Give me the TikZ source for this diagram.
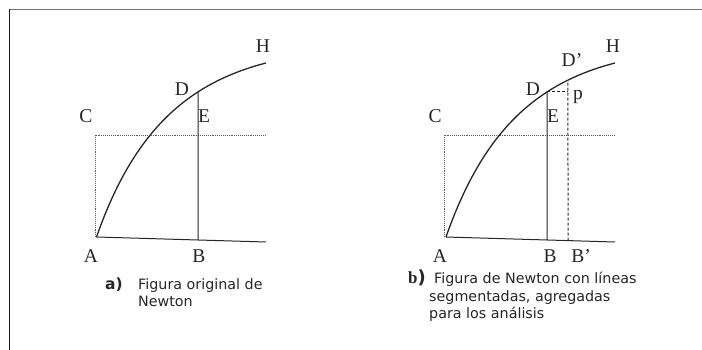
\documentclass[tikz,border=0pt]{standalone}
\usepackage{fontspec}
\setmainfont{Liberation Serif}
\newfontfamily\capfont{DejaVu Sans}
\usetikzlibrary{intersections}
\tikzset{
  lbl/.style={anchor=base, inner sep=0pt, font=\fontsize{19.5}{20}\selectfont, text=black!85},
  captext/.style={anchor=base west, inner sep=0pt, font=\capfont\fontsize{14.3}{17}\selectfont, text=black!85},
  curveline/.style={line width=1.3pt, black!85},
  solidline/.style={line width=1pt, black!85},
  dotline/.style={line width=0.8pt, black!65, dash pattern=on 0.9pt off 1pt},
  dashline/.style={line width=1pt, black!85, dash pattern=on 3pt off 2pt},
}
\begin{document}
\begin{tikzpicture}[x=1pt,y=-1pt]
\useasboundingbox (0,0) rectangle (702,350);
% frame
\draw[black!55, line width=1.3pt] (9,9.5) -- (702,9.5);
\draw[black!90, line width=1pt] (9.5,9) -- (9.5,350);

% ---------- left figure ----------
\begin{scope}[name prefix=l-]
  \coordinate (A) at (96.5,237);
  \coordinate (Hend) at (266,63);
  \coordinate (R) at (266,242);
  \coordinate (C0) at (95,135);
  \coordinate (C1) at (265,135);
  \coordinate (C2) at (95,237);
  \draw[dotline] (C2) -- (C0) -- (C1);
  \draw[curveline, name path=l-curve] (A) .. controls (131.7,136.7) and (182.6,84.5) .. (Hend);
  \draw[solidline, name path=l-base] (A) -- (R);
  \path[name path=l-vB] (198,20) -- (198,260);
  \path[name intersections={of=l-curve and l-vB, by=D}];
  \path[name intersections={of=l-base and l-vB, by=B}];
  \draw[solidline] (B) -- (D);
  \node[lbl] (H) at (263,53) {H};
  \node[lbl] (Dl) at (182,96) {D};
  \node[lbl] (Cl) at (86,123) {C};
  \node[lbl] (El) at (204,123) {E};
  \node[lbl] (Al) at (91,262) {A};
  \node[lbl] (Bl) at (199,262) {B};
  \node[captext, font=\capfont\bfseries\fontsize{15.5}{17}\selectfont] (tag) at (105,289) {a)};
  \node[captext] (c1) at (138,289) {Figura original de};
  \node[captext] (c2) at (138,306) {Newton};
\end{scope}

% ---------- right figure ----------
\begin{scope}[xshift=350pt, name prefix=r-]
  \coordinate (A) at (96,237);
  \coordinate (Hend) at (265,63);
  \coordinate (R) at (265,242);
  \coordinate (C0) at (94,135);
  \coordinate (C1) at (264,135);
  \coordinate (C2) at (94,237);
  \draw[dotline] (C2) -- (C0) -- (C1);
  \draw[curveline, name path=r-curve] (A) .. controls (131.2,136.7) and (181.6,84.5) .. (Hend);
  \draw[solidline, name path=r-base] (A) -- (R);
  \path[name path=r-vB] (197,20) -- (197,260);
  \path[name path=r-vBp] (218,20) -- (218,260);
  \path[name intersections={of=r-curve and r-vB, by=D}];
  \path[name intersections={of=r-base and r-vB, by=B}];
  \path[name intersections={of=r-curve and r-vBp, by=Dp}];
  \path[name intersections={of=r-base and r-vBp, by=Bp}];
  \coordinate (P) at (Bp |- D);
  \draw[solidline] (B) -- (D);
  \draw[dashline] (D) -- (P);
  \draw[dashline] (Bp) -- (Dp);
  \node[lbl] (H) at (263,53) {H};
  \node[lbl] (Dpl) at (222,67) {D’};
  \node[lbl] (Dl) at (183,96) {D};
  \node[lbl] (pl) at (228,100) {p};
  \node[lbl] (Cl) at (85,123) {C};
  \node[lbl] (El) at (203,123) {E};
  \node[lbl] (Al) at (90,262) {A};
  \node[lbl] (Bl) at (200,262) {B};
  \node[lbl] (Bpl) at (231,262) {B’};
  \node[captext] (tag) at (58,283.5) {{\rmfamily\bfseries\fontsize{17}{17}\selectfont b}{\bfseries\fontsize{18}{17}\selectfont)}};
  \node[captext] (c1) at (84,283.5) {Figura de Newton con líneas};
  \node[captext] (c2) at (79,301.5) {segmentadas, agregadas};
  \node[captext] (c3) at (79,318.5) {para los análisis};
\end{scope}
\end{tikzpicture}
\end{document}
